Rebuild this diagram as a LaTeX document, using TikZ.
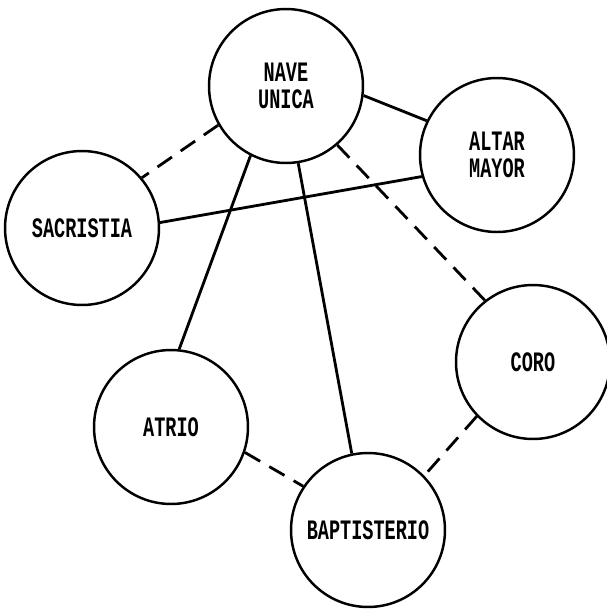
\documentclass[tikz,border=0pt]{standalone}
\usepackage{fontspec}
\usepackage{graphicx}
\usepackage{tikz}
\newfontfamily\plotfont{Liberation Mono}

\newcommand{\rot}[1]{\scalebox{0.66}[1]{#1}}

\begin{document}
\begin{tikzpicture}[x=0.02cm,y=-0.02cm,sala/.style={circle,draw,line width=1.4pt,minimum size=3.08cm,inner sep=0pt,align=center,font=\plotfont\bfseries\fontsize{16}{15}\selectfont},lin/.style={line width=1.6pt},dlin/.style={lin,dash pattern=on 10pt off 6pt}]
\useasboundingbox (0,0) rectangle (607,613);
\node[sala] (nave) at (286,86) {\rot{NAVE}\\\rot{UNICA}};
\node[sala] (altar) at (497,155) {\rot{ALTAR}\\\rot{MAYOR}};
\node[sala] (sacristia) at (82,228) {\rot{SACRISTIA}};
\node[sala] (coro) at (533,362) {\rot{CORO}};
\node[sala] (atrio) at (171,427) {\rot{ATRIO}};
\node[sala] (baptisterio) at (368,530) {\rot{BAPTISTERIO}};
% enlaces
\draw[lin] (nave.-7) -- (altar.154);
\draw[dlin] (nave.210) -- (sacristia.40);
\draw[lin] (sacristia.4) -- (altar.196);
\draw[lin] (nave.243) -- (atrio.84);
\draw[lin] (nave.279) -- (baptisterio.102);
\draw[dlin] (nave.311) -- (coro.128);
\draw[dlin] (atrio.-19) -- (baptisterio.146);
\draw[dlin] (coro.224) -- (baptisterio.44);
\end{tikzpicture}
\end{document}
